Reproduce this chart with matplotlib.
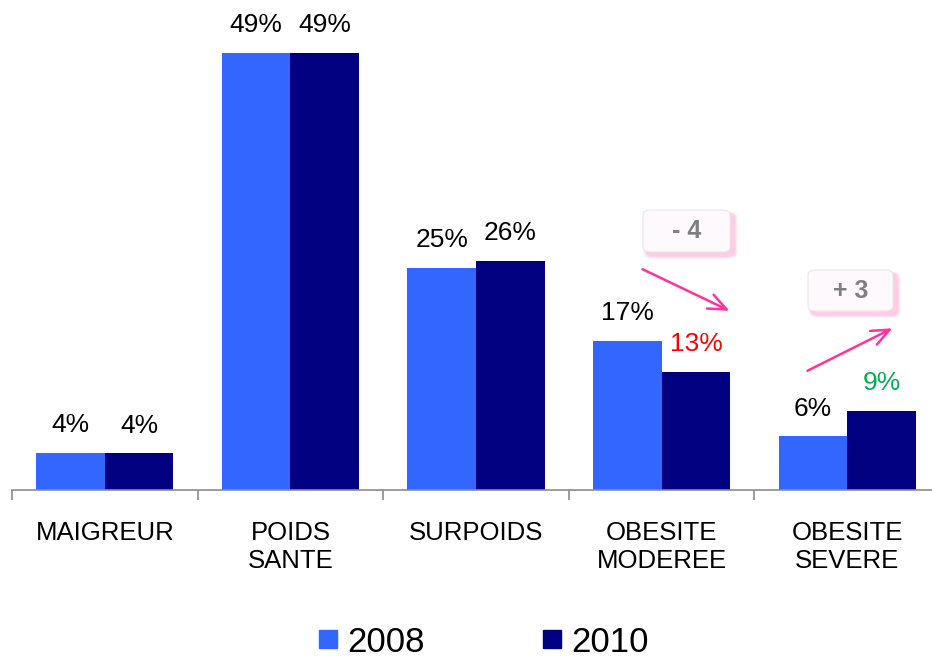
import matplotlib.pyplot as plt
import numpy as np
from matplotlib.lines import Line2D
from matplotlib.patches import FancyBboxPatch

plt.rcParams['font.family'] = ['Liberation Sans', 'DejaVu Sans']

categories = ["MAIGREUR", "POIDS\nSANTE", "SURPOIDS", "OBESITE\nMODEREE", "OBESITE\nSEVERE"]
years = ["2008", "2010"]
v2008 = [4.2, 49.0, 24.9, 16.7, 6.0]
v2010 = [4.1, 49.0, 25.7, 13.2, 8.9]
lab2008 = ["4%", "49%", "25%", "17%", "6%"]
lab2010 = ["4%", "49%", "26%", "13%", "9%"]
labcol2010 = ["black", "black", "black", "#FF0000", "#00B050"]
deltas = ["- 4", "+ 3"]

c08 = "#3366FF"
c10 = "#000080"
W, H = 932, 659

fig = plt.figure(figsize=(W / 100, H / 100), dpi=100)
# axes: left edge at x=12px, baseline at y=490px, 49% at y=53px
ax = fig.add_axes([12 / W, (H - 490) / H, (940 - 12) / W, (490 - 53) / H])

x = np.arange(len(categories))
bw = 0.37
b1 = ax.bar(x - bw / 2, v2008, bw, color=c08)
b2 = ax.bar(x + bw / 2, v2010, bw, color=c10)

for i in range(len(x)):
    ax.annotate(lab2008[i], (x[i] - bw / 2, v2008[i]), xytext=(0, 20), textcoords="offset points",
                ha="center", va="center", fontsize=19, color="black", annotation_clip=False)
    ax.annotate(lab2010[i], (x[i] + bw / 2, v2010[i]), xytext=(0, 20), textcoords="offset points",
                ha="center", va="center", fontsize=19, color=labcol2010[i], annotation_clip=False)

ax.set_xlim(-0.5, len(x) - 0.5)
ax.set_ylim(0, 49)
for s in ["left", "right", "top"]:
    ax.spines[s].set_visible(False)
ax.spines["bottom"].set_color("#8c8c8c")
ax.spines["bottom"].set_linewidth(1.2)
ax.set_yticks([])
ax.set_xticks(x, categories, fontsize=18.5, linespacing=1.25)
ax.tick_params(axis="x", which="major", length=0, pad=22)
ax.set_xticks(np.arange(len(x) + 1) - 0.5, minor=True)
ax.tick_params(axis="x", which="minor", length=7, width=1.2, color="#8c8c8c")


def px(xp, yp):
    return (xp / W, 1 - yp / H)


def badge(x0, y0, x1, y1, txt):
    # soft pink shadow down-right, then light box on top
    for k in range(4, 0, -1):
        sh = FancyBboxPatch(px(x0 + 4, y1 + 4), (x1 - x0) / W, (y1 - y0) / H,
                            boxstyle="round,pad=%f,rounding_size=0.009" % (k * 0.0009),
                            transform=fig.transFigure,
                            facecolor="#FF88C8", edgecolor="none", alpha=0.13)
        fig.add_artist(sh)
    bx = FancyBboxPatch(px(x0, y1), (x1 - x0) / W, (y1 - y0) / H,
                        boxstyle="round,pad=0,rounding_size=0.008", transform=fig.transFigure,
                        facecolor="#FDF9FC", edgecolor="#E8E8E8", linewidth=0.8)
    fig.add_artist(bx)
    fig.text((x0 + x1) / 2 / W, 1 - (y0 + y1) / 2 / H, txt, ha="center", va="center",
             fontsize=18, fontweight="bold", color="#808080")


badge(643, 210, 730, 252, deltas[0])
badge(808, 270, 893, 311, deltas[1])

arrow = dict(arrowstyle="->,head_length=1.3,head_width=0.55", color="#FF3399", lw=1.8)
fig.add_artist(plt.Annotation("", xy=px(732, 312), xytext=px(640, 268),
                              xycoords="figure fraction", arrowprops=arrow))
fig.add_artist(plt.Annotation("", xy=px(895, 327), xytext=px(805, 372),
                              xycoords="figure fraction", arrowprops=arrow))

handles = [Line2D([], [], marker="s", linestyle="none", markersize=13, color=c)
           for c in (c08, c10)]
fig.legend(handles, years, loc="center", bbox_to_anchor=(484 / W, 1 - 642 / H), ncol=2,
           frameon=False, fontsize=25, handlelength=0.5, handletextpad=0.3,
           columnspacing=3.4, borderpad=0)

fig.savefig("out.png", dpi=100)
